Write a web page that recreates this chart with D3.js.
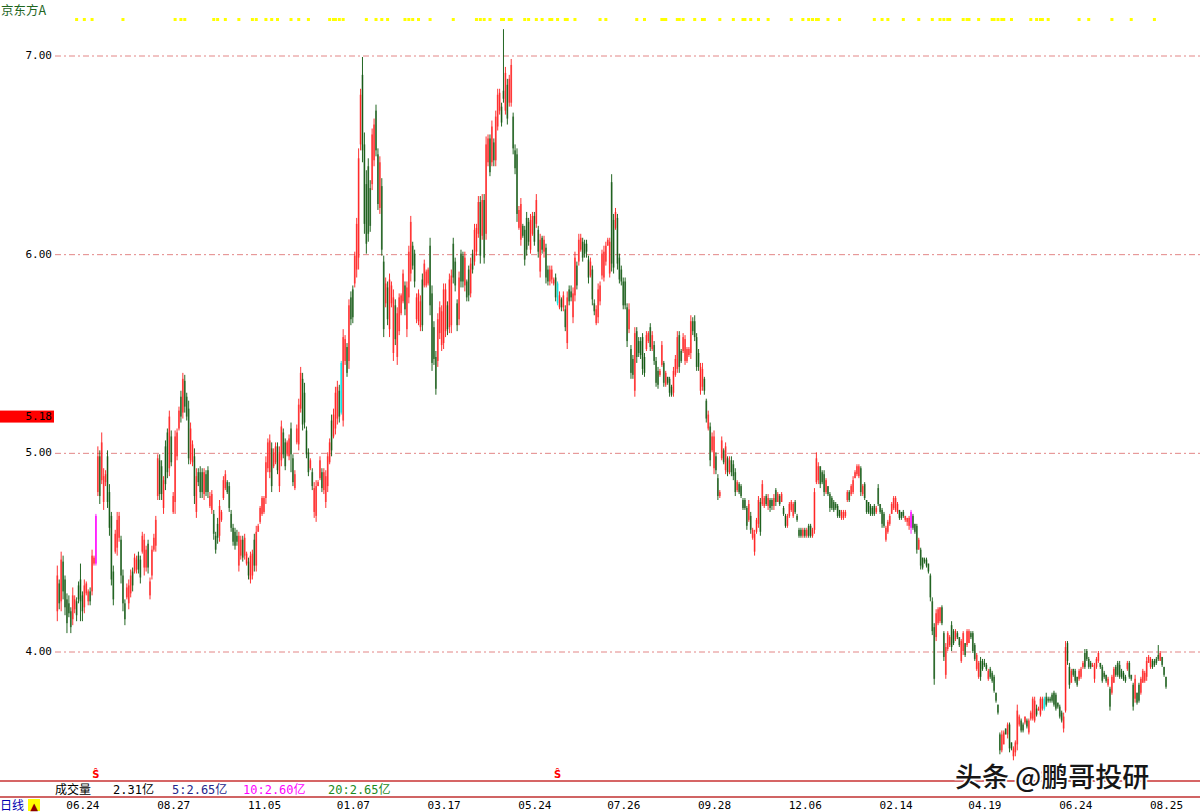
<!DOCTYPE html>
<html><head><meta charset="utf-8">
<script src="https://cdn.jsdelivr.net/npm/d3@7/dist/d3.min.js"></script>
<style>html,body{margin:0;padding:0;background:#fff;overflow:hidden}</style>
</head><body>
<svg id="chart" width="1200" height="812"></svg>
<script>
const stockName = "京东方A";
const dateLabels = ["06.24","08.27","11.05","01.07","03.17","05.24","07.26","09.28","12.06","02.14","04.19","06.24","08.25"];
const dateLabelIdx = [13,60,107,153,200,247,293,340,387,434,480,527,574];
const priceTicks = [4,5,6,7];
const markPrice = 5.18;

const open = [
4.20,4.34,4.25,4.45,4.36,4.26,4.24,4.20,4.16,4.21,
4.25,4.33,4.36,4.28,4.22,4.29,4.25,4.30,4.30,4.44,
4.44,4.80,4.98,4.86,4.75,4.85,4.98,4.80,4.68,4.40,
4.50,4.52,4.57,4.56,4.38,4.24,4.27,4.24,4.29,4.40,
4.40,4.41,4.48,4.46,4.50,4.42,4.42,4.54,4.28,4.38,
4.51,4.53,4.78,4.96,4.93,4.72,5.03,5.10,4.92,5.08,
4.70,4.75,4.98,5.12,5.28,5.20,5.36,5.28,5.22,4.96,
4.95,4.98,4.70,4.90,4.90,4.90,4.79,4.89,4.91,4.73,
4.71,4.69,4.58,4.64,4.58,4.66,4.77,4.82,4.85,4.83,
4.69,4.62,4.60,4.58,4.43,4.48,4.56,4.48,4.44,4.45,
4.36,4.38,4.56,4.43,4.60,4.65,4.69,4.70,4.77,4.92,
4.90,5.02,4.93,4.95,5.03,4.83,4.96,5.10,5.05,4.99,
4.98,5.12,4.97,4.82,5.05,5.04,5.22,5.37,5.30,5.11,
5.00,4.92,4.90,4.70,4.68,4.83,4.87,4.90,4.81,4.75,
4.83,4.95,5.16,5.08,5.12,5.17,5.31,5.20,5.16,5.46,
5.53,5.46,5.78,5.82,5.85,5.92,5.98,6.55,6.90,6.55,
6.35,6.44,6.33,6.35,6.47,6.72,6.50,6.23,6.34,5.96,
5.75,5.83,5.62,5.75,5.50,5.74,5.48,5.61,5.70,5.76,
5.84,5.62,5.78,5.90,6.04,6.00,5.67,5.66,5.63,5.87,
5.84,5.84,5.85,6.04,5.80,5.63,5.48,5.46,5.60,5.54,
5.55,5.61,5.74,5.63,5.64,6.05,5.96,5.75,5.67,6.00,
5.99,5.84,5.86,5.92,5.80,6.00,5.96,6.01,6.10,6.26,
6.09,6.27,6.10,6.46,6.58,6.46,6.56,6.47,6.64,6.72,
6.74,6.82,6.72,6.85,6.76,6.76,6.69,6.52,6.50,6.13,
6.07,6.14,6.12,6.18,6.16,6.02,6.10,6.19,6.15,6.12,
5.91,6.08,6.01,6.03,5.92,5.86,5.87,5.85,5.88,5.85,
5.73,5.77,5.73,5.72,5.55,5.82,5.81,5.68,5.79,5.94,
5.96,6.02,6.06,6.05,6.05,5.97,5.89,5.92,5.75,5.65,
5.68,5.76,5.89,5.88,5.96,6.04,5.90,6.36,6.17,6.13,
6.18,5.98,5.92,5.86,5.86,5.73,5.62,5.52,5.47,5.31,
5.61,5.56,5.56,5.58,5.48,5.52,5.56,5.63,5.52,5.54,
5.46,5.41,5.39,5.44,5.45,5.34,5.38,5.37,5.33,5.30,
5.39,5.42,5.59,5.51,5.51,5.46,5.46,5.49,5.50,5.66,
5.66,5.58,5.50,5.31,5.33,5.37,5.26,5.12,5.13,5.01,
4.92,4.98,4.87,4.78,4.97,5.01,4.91,4.97,4.90,4.96,
4.94,4.90,4.81,4.84,4.83,4.76,4.76,4.72,4.66,4.68,
4.57,4.50,4.60,4.64,4.75,4.74,4.73,4.78,4.73,4.76,
4.76,4.73,4.81,4.75,4.78,4.75,4.72,4.68,4.63,4.68,
4.71,4.68,4.75,4.68,4.61,4.61,4.58,4.61,4.58,4.63,
4.63,4.58,4.61,4.85,4.86,4.93,4.90,4.89,4.80,4.83,
4.79,4.77,4.75,4.74,4.73,4.71,4.67,4.67,4.68,4.76,
4.80,4.79,4.80,4.87,4.89,4.88,4.92,4.79,4.84,4.76,
4.75,4.73,4.72,4.73,4.70,4.82,4.74,4.71,4.69,4.56,
4.60,4.64,4.69,4.72,4.71,4.70,4.71,4.70,4.70,4.66,
4.65,4.63,4.62,4.68,4.64,4.63,4.51,4.51,4.47,4.46,
4.46,4.44,4.38,4.25,4.12,4.07,4.14,4.15,4.22,4.09,
3.88,4.01,4.03,4.13,4.10,4.06,4.09,4.07,3.95,4.00,
4.04,4.03,4.04,4.09,4.09,4.03,3.91,3.87,3.95,3.95,
3.94,3.93,3.86,3.91,3.89,3.87,3.79,3.73,3.58,3.50,
3.53,3.61,3.58,3.63,3.54,3.47,3.49,3.53,3.63,3.65,
3.63,3.64,3.65,3.59,3.66,3.66,3.65,3.71,3.70,3.68,
3.71,3.76,3.77,3.76,3.76,3.78,3.79,3.78,3.74,3.72,
3.69,3.61,3.70,4.04,3.92,3.84,3.91,3.90,3.87,3.86,
3.87,3.92,3.99,4.00,3.96,3.94,3.92,3.86,3.92,3.95,
3.94,3.92,3.89,3.88,3.83,3.81,3.79,3.84,3.92,3.94,
3.93,3.90,3.89,3.87,3.91,3.94,3.88,3.83,3.76,3.79,
3.83,3.79,3.84,3.85,3.87,3.94,3.92,3.95,3.95,3.96,
3.98,3.95,3.97,3.92,3.87];

const high = [
4.43,4.36,4.50,4.48,4.38,4.29,4.28,4.22,4.32,4.28,
4.27,4.35,4.44,4.30,4.36,4.35,4.31,4.32,4.51,4.48,
4.69,5.03,5.01,5.10,4.92,4.91,5.01,4.84,4.70,4.43,
4.61,4.70,4.70,4.58,4.41,4.26,4.34,4.36,4.41,4.42,
4.49,4.48,4.50,4.48,4.60,4.59,4.53,4.56,4.37,4.53,
4.59,4.68,4.99,4.99,4.96,4.88,5.06,5.12,5.21,5.11,
4.80,5.11,5.12,5.23,5.31,5.40,5.39,5.30,5.26,5.15,
5.06,5.02,4.92,4.92,4.93,4.92,4.92,4.91,4.93,4.80,
4.81,4.71,4.60,4.67,4.76,4.71,4.88,4.91,4.86,4.85,
4.71,4.64,4.62,4.61,4.60,4.58,4.58,4.59,4.50,4.47,
4.50,4.51,4.59,4.63,4.64,4.73,4.78,4.78,4.98,5.07,
5.09,5.05,5.02,5.05,5.05,5.03,5.16,5.12,5.07,5.06,
5.09,5.15,4.99,4.91,5.14,5.27,5.43,5.40,5.35,5.13,
5.02,4.97,4.92,4.85,4.86,4.86,4.98,4.92,4.92,4.91,
5.00,5.07,5.19,5.22,5.33,5.36,5.34,5.46,5.62,5.59,
5.55,5.77,5.81,5.84,6.01,6.18,6.53,6.83,6.99,6.61,
6.42,6.48,6.37,6.63,6.68,6.75,6.53,6.49,6.38,5.99,
5.88,5.86,5.90,5.86,5.82,5.77,5.73,5.80,5.80,5.92,
5.86,5.86,6.04,6.19,6.06,6.02,5.80,5.82,5.79,5.90,
5.97,5.92,5.93,6.08,5.84,5.66,5.51,5.70,5.76,5.74,
5.85,5.85,5.76,5.90,5.92,6.08,5.98,5.77,5.91,6.02,
6.01,6.01,5.87,5.94,5.98,6.02,6.15,6.15,6.29,6.29,
6.30,6.30,6.59,6.60,6.60,6.67,6.58,6.72,6.83,6.83,
6.76,7.13,6.94,6.88,6.90,6.98,6.71,6.55,6.53,6.24,
6.28,6.15,6.14,6.21,6.18,6.20,6.21,6.21,6.30,6.14,
6.10,6.09,6.09,6.05,5.94,5.94,5.94,5.88,5.90,5.86,
5.81,5.78,5.81,5.74,5.81,5.84,5.84,5.83,6.01,5.96,
6.10,6.10,6.08,6.07,6.07,5.99,5.98,5.94,5.77,5.74,
5.85,5.86,6.02,6.04,6.06,6.08,6.08,6.40,6.20,6.23,
6.20,6.00,5.94,5.88,5.88,5.75,5.75,5.54,5.49,5.63,
5.63,5.58,5.58,5.60,5.50,5.61,5.61,5.65,5.61,5.56,
5.48,5.43,5.42,5.56,5.46,5.41,5.38,5.38,5.34,5.43,
5.49,5.61,5.61,5.52,5.60,5.59,5.53,5.53,5.69,5.68,
5.69,5.60,5.52,5.45,5.45,5.38,5.27,5.21,5.15,5.10,
5.11,5.00,4.89,4.81,5.08,5.02,5.05,4.98,4.98,4.98,
4.96,4.92,4.86,4.85,4.84,4.77,4.77,4.73,4.76,4.70,
4.62,4.61,4.67,4.78,4.77,4.86,4.78,4.79,4.79,4.77,
4.77,4.79,4.82,4.80,4.79,4.80,4.73,4.69,4.69,4.75,
4.76,4.75,4.76,4.69,4.62,4.62,4.62,4.62,4.62,4.64,
4.64,4.62,4.82,5.00,4.95,4.93,4.91,4.91,4.87,4.83,
4.80,4.78,4.76,4.75,4.74,4.71,4.71,4.71,4.71,4.81,
4.81,4.84,4.88,4.91,4.94,4.94,4.93,4.84,4.85,4.76,
4.75,4.74,4.73,4.74,4.73,4.84,4.74,4.72,4.70,4.63,
4.66,4.69,4.75,4.78,4.78,4.75,4.71,4.70,4.71,4.68,
4.67,4.68,4.71,4.69,4.64,4.64,4.57,4.52,4.47,4.47,
4.47,4.44,4.39,4.27,4.14,4.21,4.22,4.22,4.23,4.10,
4.04,4.10,4.08,4.15,4.11,4.11,4.10,4.07,4.06,4.10,
4.04,4.11,4.11,4.10,4.10,4.04,3.99,3.95,3.97,3.96,
3.96,3.94,3.91,3.92,3.90,3.88,3.79,3.73,3.59,3.60,
3.60,3.61,3.64,3.64,3.54,3.52,3.55,3.73,3.68,3.66,
3.64,3.67,3.66,3.66,3.70,3.77,3.77,3.73,3.72,3.77,
3.77,3.77,3.79,3.77,3.77,3.79,3.80,3.79,3.74,3.73,
3.70,3.69,4.05,4.05,3.94,3.91,3.91,3.91,3.87,3.91,
3.92,3.95,4.01,4.01,3.97,3.95,3.94,3.94,3.97,4.00,
3.94,3.93,3.90,3.88,3.87,3.82,3.88,3.92,3.93,3.95,
3.95,3.91,3.90,3.88,3.95,3.95,3.88,3.84,3.88,3.79,
3.84,3.87,3.91,3.90,3.97,3.98,3.97,3.96,3.96,3.97,
4.03,4.00,3.97,3.92,3.87];

const low = [
4.15,4.21,4.20,4.26,4.18,4.09,4.17,4.09,4.13,4.19,
4.15,4.24,4.15,4.15,4.19,4.28,4.23,4.23,4.28,4.43,
4.43,4.78,4.74,4.84,4.71,4.83,4.72,4.58,4.33,4.23,
4.49,4.48,4.55,4.34,4.20,4.13,4.26,4.21,4.27,4.30,
4.39,4.39,4.39,4.34,4.49,4.38,4.40,4.39,4.26,4.36,
4.50,4.50,4.76,4.76,4.76,4.69,4.81,4.87,4.88,4.93,
4.69,4.69,4.96,5.11,5.15,5.17,5.20,5.16,4.94,4.94,
4.93,4.74,4.67,4.83,4.77,4.77,4.76,4.78,4.77,4.72,
4.69,4.56,4.49,4.54,4.55,4.65,4.76,4.81,4.79,4.70,
4.60,4.53,4.51,4.53,4.40,4.46,4.45,4.46,4.43,4.36,
4.34,4.36,4.40,4.40,4.60,4.64,4.68,4.69,4.74,4.90,
4.87,4.80,4.92,4.94,4.89,4.80,4.93,4.97,4.91,4.98,
4.96,4.90,4.83,4.81,5.04,5.01,5.20,5.11,5.12,4.97,
4.88,4.91,4.81,4.67,4.65,4.83,4.86,4.80,4.79,4.72,
4.80,4.94,4.98,5.07,5.09,5.14,5.15,5.19,5.13,5.44,
5.38,5.42,5.64,5.65,5.83,5.88,5.92,6.52,6.46,6.10,
6.00,6.06,6.11,6.32,6.44,6.49,6.22,6.20,5.99,5.58,
5.73,5.64,5.58,5.73,5.46,5.54,5.44,5.59,5.69,5.75,
5.69,5.58,5.75,5.86,5.92,5.83,5.65,5.64,5.61,5.61,
5.83,5.83,5.84,5.69,5.41,5.44,5.29,5.43,5.57,5.51,
5.52,5.58,5.59,5.60,5.60,5.85,5.81,5.61,5.64,5.83,
5.83,5.81,5.76,5.76,5.78,5.90,5.94,5.99,6.08,5.95,
6.07,5.95,6.07,6.44,6.39,6.44,6.44,6.44,6.62,6.70,
6.64,6.76,6.70,6.65,6.74,6.74,6.50,6.40,6.16,6.12,
6.04,6.08,5.94,5.99,6.04,6.00,6.09,6.04,6.13,5.98,
5.88,6.00,5.98,5.85,5.84,5.84,5.85,5.84,5.76,5.74,
5.72,5.71,5.71,5.61,5.52,5.74,5.76,5.65,5.76,5.82,
5.94,6.01,5.96,5.98,5.98,5.85,5.88,5.74,5.69,5.64,
5.65,5.74,5.87,5.86,5.94,6.04,5.88,5.91,5.90,6.12,
5.92,5.85,5.84,5.72,5.72,5.53,5.60,5.37,5.37,5.28,
5.45,5.48,5.47,5.39,5.38,5.51,5.55,5.51,5.51,5.44,
5.33,5.32,5.38,5.43,5.33,5.33,5.34,5.28,5.28,5.28,
5.38,5.40,5.40,5.45,5.50,5.44,5.45,5.48,5.47,5.59,
5.56,5.41,5.41,5.29,5.31,5.29,5.15,5.11,4.93,5.00,
4.89,4.89,4.76,4.77,4.96,4.94,4.89,4.88,4.89,4.88,
4.86,4.78,4.80,4.79,4.77,4.71,4.71,4.61,4.65,4.59,
4.56,4.48,4.59,4.62,4.58,4.73,4.72,4.73,4.71,4.70,
4.71,4.71,4.73,4.75,4.73,4.75,4.68,4.62,4.62,4.67,
4.70,4.67,4.69,4.65,4.57,4.57,4.57,4.57,4.57,4.57,
4.57,4.57,4.59,4.84,4.84,4.82,4.84,4.78,4.79,4.78,
4.70,4.71,4.70,4.71,4.67,4.67,4.66,4.66,4.67,4.75,
4.75,4.78,4.79,4.87,4.88,4.87,4.78,4.78,4.76,4.69,
4.69,4.68,4.68,4.68,4.69,4.73,4.69,4.62,4.62,4.55,
4.59,4.63,4.69,4.71,4.70,4.69,4.66,4.66,4.67,4.65,
4.63,4.61,4.59,4.61,4.59,4.49,4.51,4.41,4.41,4.44,
4.42,4.39,4.25,4.08,3.83,4.05,4.13,4.14,4.13,3.95,
3.86,4.00,4.02,4.00,4.03,4.05,4.06,4.02,3.94,3.98,
3.97,4.02,4.04,4.06,3.99,3.95,3.90,3.86,3.85,3.90,
3.92,3.90,3.85,3.86,3.84,3.79,3.74,3.68,3.48,3.49,
3.53,3.58,3.56,3.49,3.50,3.45,3.47,3.50,3.62,3.59,
3.59,3.63,3.61,3.58,3.65,3.65,3.64,3.67,3.70,3.67,
3.70,3.70,3.72,3.74,3.74,3.74,3.72,3.70,3.71,3.66,
3.64,3.59,3.69,3.93,3.81,3.84,3.87,3.84,3.82,3.85,
3.86,3.91,3.91,3.95,3.91,3.91,3.92,3.84,3.91,3.94,
3.91,3.84,3.86,3.84,3.82,3.70,3.78,3.84,3.87,3.87,
3.86,3.86,3.85,3.84,3.90,3.86,3.85,3.70,3.74,3.73,
3.74,3.78,3.84,3.84,3.85,3.94,3.91,3.91,3.92,3.93,
3.95,3.95,3.92,3.87,3.81];

const close = [
4.38,4.24,4.46,4.30,4.22,4.14,4.19,4.12,4.28,4.26,
4.18,4.26,4.25,4.20,4.33,4.34,4.30,4.25,4.48,4.47,
4.68,4.98,4.78,5.05,4.88,4.89,4.75,4.62,4.36,4.26,
4.59,4.66,4.68,4.38,4.24,4.16,4.32,4.33,4.38,4.33,
4.47,4.46,4.41,4.37,4.58,4.56,4.51,4.42,4.35,4.51,
4.57,4.66,4.97,4.79,4.79,4.86,4.84,4.90,5.18,4.95,
4.78,5.08,5.10,5.21,5.18,5.37,5.23,5.18,4.97,5.12,
5.04,4.78,4.88,4.85,4.80,4.80,4.90,4.80,4.80,4.78,
4.79,4.59,4.51,4.57,4.73,4.70,4.86,4.89,4.80,4.72,
4.62,4.55,4.53,4.55,4.58,4.56,4.47,4.57,4.49,4.38,
4.48,4.49,4.43,4.60,4.63,4.72,4.77,4.77,4.95,5.05,
5.06,4.83,5.00,5.03,4.91,5.00,5.13,4.99,4.93,5.05,
5.07,4.99,4.85,4.89,5.12,5.24,5.40,5.14,5.15,4.99,
4.90,4.96,4.83,4.82,4.83,4.85,4.96,4.82,4.90,4.88,
4.98,5.05,5.01,5.19,5.30,5.33,5.18,5.45,5.58,5.57,
5.40,5.74,5.67,5.68,5.99,6.15,6.48,6.80,6.52,6.15,
6.05,6.10,6.14,6.60,6.65,6.52,6.25,6.46,6.02,5.62,
5.85,5.67,5.87,5.84,5.78,5.57,5.70,5.78,5.79,5.90,
5.72,5.83,6.01,6.16,5.94,5.86,5.78,5.80,5.76,5.64,
5.95,5.91,5.92,5.74,5.45,5.47,5.32,5.67,5.73,5.71,
5.82,5.82,5.62,5.87,5.89,5.88,5.84,5.64,5.88,5.86,
5.86,5.98,5.78,5.79,5.95,5.92,6.12,6.13,6.26,5.99,
6.27,5.98,6.55,6.58,6.41,6.64,6.47,6.69,6.80,6.81,
6.66,6.78,6.91,6.68,6.88,6.95,6.53,6.43,6.20,6.22,
6.25,6.09,5.97,6.02,6.06,6.17,6.19,6.06,6.27,6.01,
6.07,6.02,6.07,5.88,5.86,5.92,5.92,5.87,5.78,5.75,
5.79,5.73,5.79,5.63,5.78,5.76,5.78,5.80,5.98,5.84,
6.07,6.08,5.98,6.00,6.01,5.88,5.96,5.77,5.71,5.72,
5.82,5.84,6.00,6.01,6.04,6.07,6.06,5.95,5.93,6.21,
5.95,5.87,5.86,5.74,5.74,5.56,5.72,5.40,5.39,5.60,
5.48,5.50,5.49,5.42,5.40,5.59,5.60,5.53,5.59,5.46,
5.35,5.34,5.41,5.54,5.35,5.40,5.35,5.30,5.29,5.41,
5.47,5.58,5.43,5.46,5.58,5.57,5.52,5.52,5.66,5.61,
5.58,5.43,5.43,5.43,5.42,5.31,5.17,5.19,4.96,5.08,
5.08,4.91,4.78,4.80,5.06,4.95,5.03,4.90,4.96,4.90,
4.88,4.80,4.85,4.80,4.78,4.72,4.72,4.63,4.74,4.61,
4.61,4.59,4.66,4.76,4.60,4.84,4.77,4.74,4.77,4.72,
4.73,4.77,4.75,4.79,4.74,4.79,4.69,4.63,4.68,4.74,
4.75,4.74,4.70,4.66,4.58,4.58,4.61,4.58,4.61,4.58,
4.58,4.61,4.80,4.97,4.93,4.84,4.85,4.80,4.86,4.79,
4.72,4.72,4.71,4.72,4.68,4.68,4.70,4.70,4.70,4.80,
4.76,4.83,4.86,4.90,4.93,4.93,4.80,4.83,4.77,4.70,
4.70,4.69,4.69,4.69,4.72,4.74,4.70,4.64,4.63,4.62,
4.65,4.68,4.74,4.77,4.77,4.74,4.67,4.67,4.68,4.68,
4.67,4.67,4.70,4.62,4.60,4.51,4.56,4.43,4.42,4.45,
4.43,4.40,4.27,4.10,3.86,4.19,4.21,4.22,4.14,3.97,
4.02,4.09,4.07,4.02,4.04,4.10,4.07,4.03,4.05,4.09,
3.98,4.10,4.10,4.07,4.00,3.96,3.98,3.94,3.87,3.91,
3.93,3.91,3.90,3.87,3.85,3.80,3.75,3.69,3.50,3.58,
3.59,3.58,3.63,3.51,3.51,3.51,3.54,3.70,3.67,3.60,
3.60,3.67,3.62,3.65,3.69,3.76,3.75,3.68,3.71,3.76,
3.76,3.71,3.73,3.75,3.75,3.75,3.73,3.71,3.72,3.67,
3.65,3.67,4.02,3.95,3.83,3.90,3.88,3.85,3.83,3.90,
3.91,3.94,3.92,3.96,3.92,3.92,3.93,3.92,3.96,3.99,
3.92,3.85,3.87,3.85,3.86,3.72,3.87,3.91,3.88,3.88,
3.87,3.87,3.86,3.85,3.94,3.87,3.86,3.72,3.86,3.74,
3.75,3.86,3.90,3.89,3.95,3.97,3.96,3.92,3.93,3.94,
3.96,3.99,3.93,3.88,3.82];

const magentaBars = [20, 442];
const cyanBars = [147, 259, 511];
const signalBars = [20, 259, 511];
const dotBars = [10,14,18,34,61,64,66,81,83,87,94,101,103,108,111,114,121,125,130,141,143,144,146,148,160,165,168,171,180,182,184,187,193,205,217,219,221,224,230,231,234,235,242,244,248,251,255,256,259,263,264,268,281,284,300,304,313,314,315,321,322,324,330,334,335,343,350,355,356,359,363,368,380,386,389,391,393,394,399,405,423,427,430,438,446,453,457,459,461,462,469,471,472,477,484,485,487,489,490,494,504,507,509,510,513,529,534,546,556,568];
const volLegend = ["成交量","2.31亿","5:2.65亿","10:2.60亿","20:2.65亿"];
const volColors = ["#000000","#000000","#26268a","#ff00ff","#1d8a1d"];
const periodLabel = "日线";
const watermark = "头条 @鹏哥投研";

const svg = d3.select("#chart");
const N = Math.min(open.length, high.length, low.length, close.length);
const x = d3.scaleLinear().domain([0, N - 1]).range([57.3, 1166]);
const y = d3.scaleLinear().domain([4, 7]).range([651, 55]);
const MONO = "'DejaVu Sans Mono', monospace";
const CJK = "'Noto Sans CJK SC', sans-serif";

// grid lines (axis with long ticks)
const grid = svg.append("g").attr("transform", "translate(55,0)")
  .call(d3.axisRight(y).tickValues(priceTicks).tickSize(1145).tickFormat(""));
grid.select(".domain").remove();
grid.selectAll("line").attr("stroke", "#e38686").attr("stroke-dasharray", "6,3,2,3")
  .attr("transform", "translate(0,0.5)");

// y tick labels
const yAx = svg.append("g").attr("transform", "translate(54,0)")
  .call(d3.axisLeft(y).tickValues(priceTicks).tickSize(0).tickPadding(2).tickFormat(d3.format(".2f")));
yAx.select(".domain").remove();
yAx.selectAll("text").attr("font-family", MONO).attr("font-size", 11).attr("fill", "#000");

// title
svg.append("text").attr("x", 1).attr("y", 15).attr("font-family", CJK).attr("font-size", 12.5)
  .attr("fill", "#1f661f").text(stockName);

// yellow dots
svg.append("g").selectAll("rect").data(dotBars).join("rect")
  .attr("x", d => x(d) - 1.5).attr("y", 18).attr("width", 3).attr("height", 3).attr("fill", "#ffff00");

// candles
const idx = d3.range(N);
function colorOf(i) {
  if (magentaBars.includes(i)) return { body: "#ff40ff", wick: "#ff00ff" };
  if (cyanBars.includes(i)) return { body: "#40f0f0", wick: "#00e0e0" };
  return close[i] >= open[i] ? { body: "#ff7272", wick: "#ff1a1a" } : { body: "#6c946c", wick: "#0a550a" };
}
const cg = svg.append("g");
cg.selectAll("rect").data(idx).join("rect")
  .attr("x", i => x(i) - 0.9).attr("width", 1.8)
  .attr("y", i => y(Math.max(open[i], close[i])))
  .attr("height", i => Math.max(1, Math.abs(y(open[i]) - y(close[i]))))
  .attr("fill", i => colorOf(i).body);
cg.selectAll("line").data(idx).join("line")
  .attr("x1", i => x(i)).attr("x2", i => x(i))
  .attr("y1", i => y(high[i])).attr("y2", i => y(low[i]))
  .attr("stroke", i => colorOf(i).wick).attr("stroke-width", 0.9);

// marker price box
svg.append("rect").attr("x", 0).attr("y", y(markPrice) - 6).attr("width", 54).attr("height", 12).attr("fill", "#ff0000");
svg.append("text").attr("x", 52).attr("y", y(markPrice)).attr("dy", "0.35em").attr("text-anchor", "end")
  .attr("font-family", MONO).attr("font-size", 11).attr("fill", "#000").text(markPrice.toFixed(2));

// signal marks
svg.append("g").selectAll("text").data(signalBars).join("text")
  .attr("x", d => x(d)).attr("y", 778).attr("text-anchor", "middle")
  .attr("font-family", "'DejaVu Sans', sans-serif").attr("font-weight", "bold").attr("font-size", 10)
  .attr("fill", "#ff0000").text("Ŝ");

// separator lines
svg.append("line").attr("x1", 0).attr("x2", 1200).attr("y1", 781).attr("y2", 781).attr("stroke", "#c83232").attr("stroke-width", 1.5);
svg.append("line").attr("x1", 0).attr("x2", 1200).attr("y1", 797).attr("y2", 797).attr("stroke", "#c03030").attr("stroke-width", 1.5);

// volume legend
const volX = [55, 113, 172, 243, 328];
svg.append("g").selectAll("text").data(volLegend).join("text")
  .attr("x", (d, i) => volX[i]).attr("y", 794)
  .attr("font-family", (d, i) => i === 0 ? CJK : MONO + ", 'Noto Sans CJK SC'")
  .attr("font-size", 12).attr("fill", (d, i) => volColors[i]).text(d => d);

// date axis
const xAx = svg.append("g").attr("transform", "translate(0,798)")
  .call(d3.axisBottom(x).tickValues(dateLabelIdx).tickSize(0).tickPadding(3)
    .tickFormat((d, i) => dateLabels[i]));
xAx.select(".domain").remove();
xAx.selectAll("text").attr("font-family", MONO).attr("font-size", 11).attr("fill", "#000");

// period label
svg.append("text").attr("x", 0).attr("y", 810).attr("font-family", CJK).attr("font-size", 12)
  .attr("fill", "#0000b0").text(periodLabel);
svg.append("rect").attr("x", 28).attr("y", 799).attr("width", 12).attr("height", 12).attr("fill", "#ffff00");
svg.append("text").attr("x", 34).attr("y", 809.5).attr("text-anchor", "middle")
  .attr("font-family", "'DejaVu Sans', sans-serif").attr("font-size", 10).attr("fill", "#8b0000").text("▲");

// watermark
svg.append("text").attr("x", 955).attr("y", 787).attr("font-family", CJK).attr("font-size", 27)
  .attr("font-weight", 500)
  .attr("fill", "#161616").attr("stroke", "#ffffff").attr("stroke-width", 3.5)
  .attr("paint-order", "stroke").text(watermark);
</script>
</body></html>
